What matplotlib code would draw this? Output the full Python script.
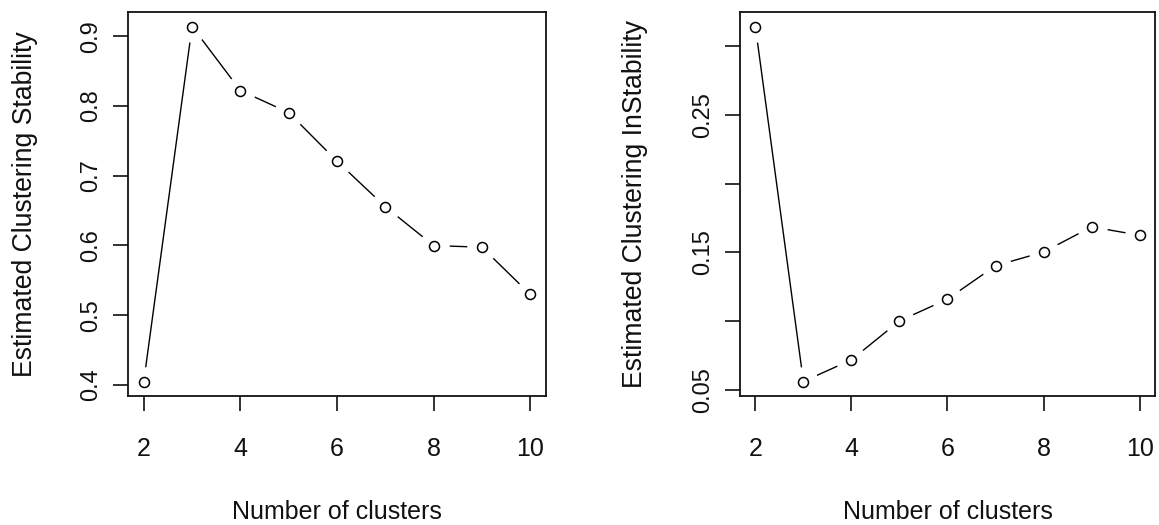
import matplotlib
matplotlib.use("Agg")
import matplotlib.pyplot as plt

# ---- data ----
clusters = [2, 3, 4, 5, 6, 7, 8, 9, 10]
stability = [0.4048, 0.9140, 0.8222, 0.7905, 0.7208, 0.6555, 0.5998, 0.5974, 0.5297]
instability = [0.3144, 0.0559, 0.0717, 0.1000, 0.1159, 0.1402, 0.1502, 0.1685, 0.1624]

x_ticks = [2, 4, 6, 8, 10]
y_ticks_left = [0.4, 0.5, 0.6, 0.7, 0.8, 0.9]
y_labels_left = ["0.4", "0.5", "0.6", "0.7", "0.8", "0.9"]
y_ticks_right = [0.05, 0.10, 0.15, 0.20, 0.25, 0.30]
y_labels_right = ["0.05", "", "0.15", "", "0.25", ""]

xlabel = "Number of clusters"
ylabel_left = "Estimated Clustering Stability"
ylabel_right = "Estimated Clustering InStability"

plt.rcParams['font.family'] = ['Liberation Sans', 'DejaVu Sans']
FS = 18
TXT = '#111111'

fig = plt.figure(figsize=(11.59, 5.25), dpi=100)
W, H = 1159, 525
ax1 = fig.add_axes([128.3 / W, (H - 395.7) / H, 417.4 / W, 383.4 / H])
ax2 = fig.add_axes([740.0 / W, (H - 395.7) / H, 415.0 / W, 383.4 / H])


def draw(ax, y, yticks, ylabels, ylabel, ylab_x):
    ax.plot(clusters, y, color='black', lw=1.0, zorder=2)
    # white discs make the gaps around points (R type="b")
    ax.plot(clusters, y, ls='none', marker='o', ms=22, mfc='white', mec='none', zorder=2.1)
    ax.plot(clusters, y, ls='none', marker='o', ms=7.2, mfc='none', mec='black', mew=1.1, zorder=3)
    ax.margins(x=0.04, y=0.04)
    ax.set_xticks(x_ticks)
    ax.set_xticklabels([str(v) for v in x_ticks])
    ax.set_yticks(yticks)
    ax.set_yticklabels(ylabels, rotation=90, va='center')
    ax.tick_params(axis='both', direction='out', length=10.8, width=1.3, color='#222222',
                   labelsize=FS, labelcolor=TXT)
    ax.tick_params(axis='x', pad=19)
    ax.tick_params(axis='y', pad=8, labelsize=17)
    for s in ax.spines.values():
        s.set_linewidth(1.3)
        s.set_color('#111111')
        s.set_zorder(4)
    ax.set_xlabel(xlabel, fontsize=FS, color=TXT, va='center')
    ax.xaxis.set_label_coords(0.5, -116.0 / 383.4)
    ax.set_ylabel(ylabel, fontsize=19.2, color=TXT, va='center')
    ax.yaxis.set_label_coords(ylab_x, 0.5)


draw(ax1, stability, y_ticks_left, y_labels_left, ylabel_left, -103.3 / 417.4)
draw(ax2, instability, y_ticks_right, y_labels_right, ylabel_right, -105.0 / 415.0)

fig.savefig("out.png", dpi=100)
